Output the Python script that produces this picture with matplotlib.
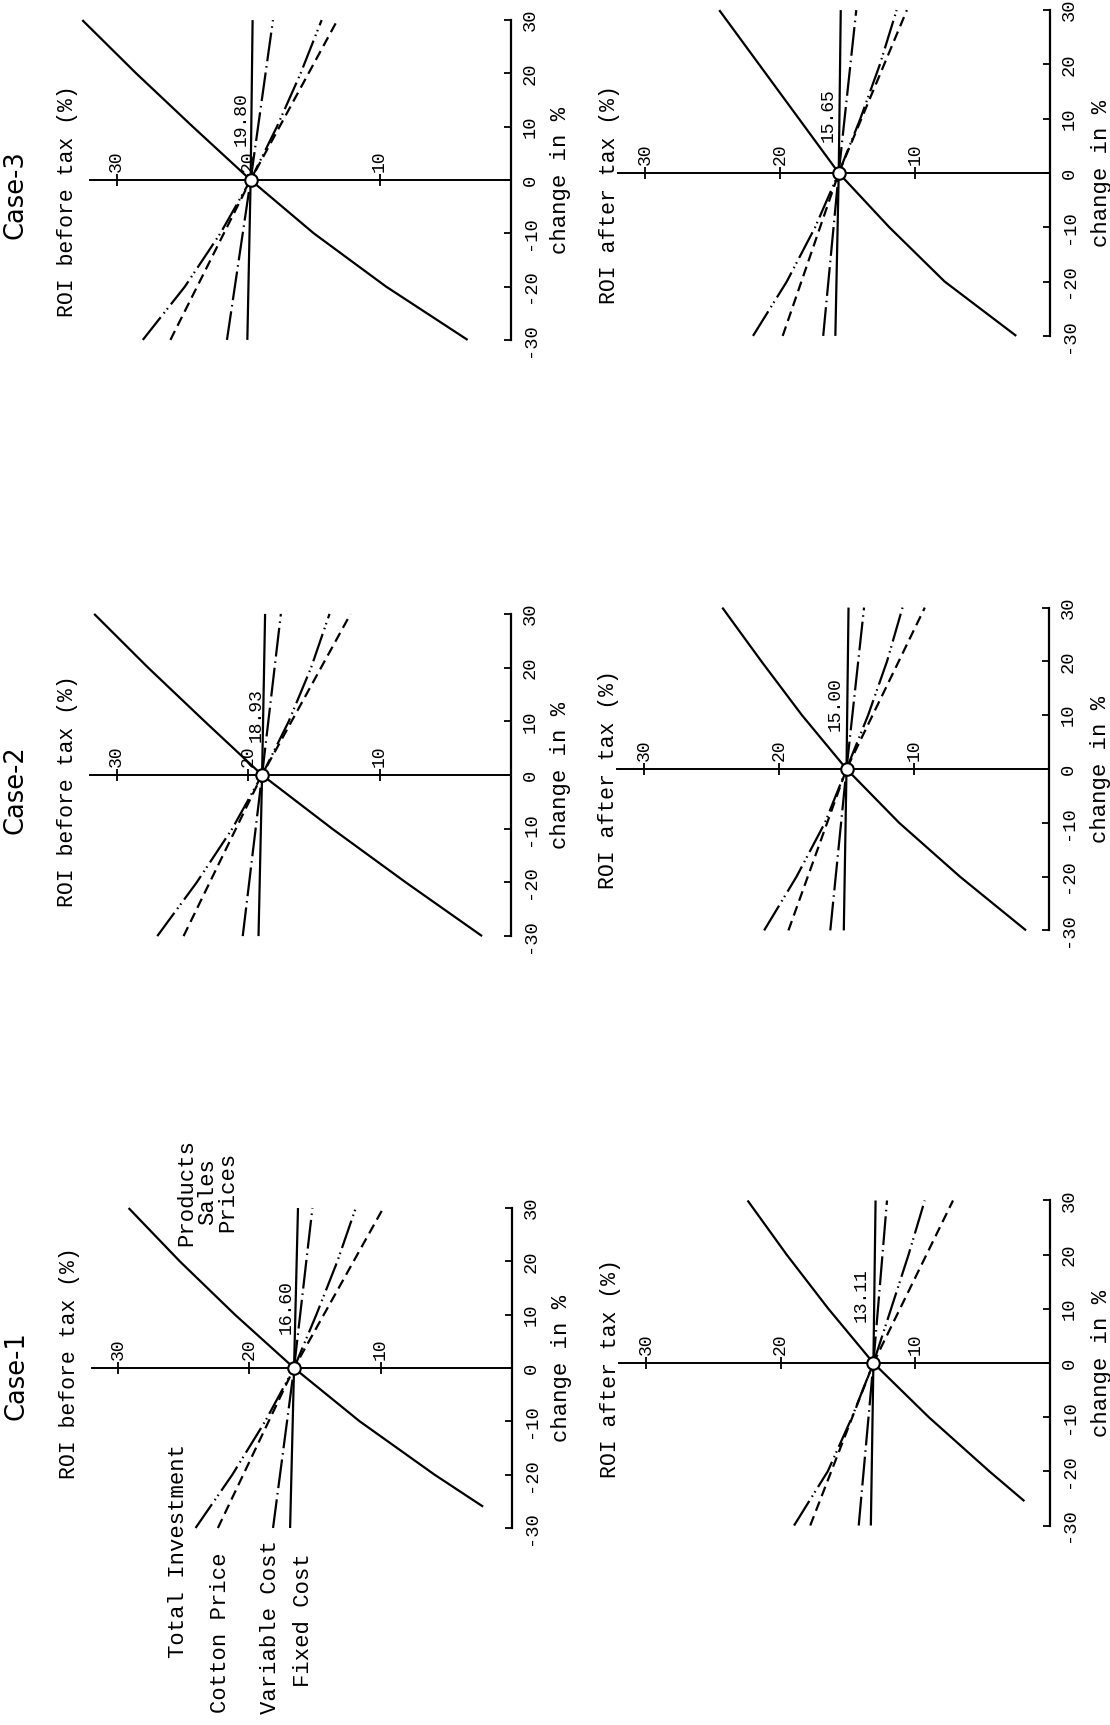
import matplotlib
matplotlib.use("Agg")
import matplotlib.pyplot as plt

W, H = 1110, 1725
fig = plt.figure(figsize=(W / 100, H / 100), dpi=100)
fig.patch.set_facecolor("white")

MONO = ["Liberation Mono", "DejaVu Sans Mono"]
SANS = ["DejaVu Sans"]

# ---------------- data ----------------
CASES = ["Case-1", "Case-2", "Case-3"]
ROI_LABELS = ["ROI before tax (%)", "ROI after tax (%)"]
CHANGE_LABEL = "change in %"
ROI_TICKS = [10, 20, 30]
ROI_TICK_LABELS = ["10", "20", "30"]
CHANGE_TICKS = [-30, -20, -10, 0, 10, 20, 30]
CHANGE_TICK_LABELS = ["-30", "-20", "-10", "0", "10", "20", "30"]

BASE_BEFORE = [16.60, 18.93, 19.80]
BASE_AFTER = [13.11, 15.00, 15.65]
BASE_LABELS_BEFORE = ["16.60", "18.93", "19.80"]
BASE_LABELS_AFTER = ["13.11", "15.00", "15.65"]

CHG3 = [-30, 0, 30]
CHG7 = [-30, -20, -10, 0, 10, 20, 30]
CHG_SALES_C1_BEFORE = [-26, -20, -10, 0, 10, 20, 30]
CHG_SALES_C1_AFTER = [-25.5, -20, -10, 0, 10, 20, 30]

# Case-1, before tax
C1B_SALES = [2.2, 5.9, 11.6, 16.6, 21.1, 25.3, 29.2]
C1B_INVEST = [24.1, 21.3, 18.8, 16.6, 14.9, 13.3, 11.9]
C1B_COTTON = [22.4, 16.6, 9.8]
C1B_VARIABLE = [18.2, 16.6, 15.2]
C1B_FIXED = [16.9, 16.6, 16.3]
# Case-1, after tax
C1A_SALES = [1.9, 4.5, 9.0, 13.11, 16.45, 19.55, 22.45]
C1A_INVEST = [19.0, 16.5, 14.7, 13.11, 11.8, 10.5, 9.3]
C1A_COTTON = [17.8, 13.11, 7.2]
C1A_VARIABLE = [14.2, 13.11, 12.1]
C1A_FIXED = [13.3, 13.11, 12.95]
# Case-2, before tax
C2B_SALES = [2.2, 8.0, 13.6, 18.93, 23.3, 27.6, 31.7]
C2B_INVEST = [26.9, 23.9, 21.2, 18.93, 16.9, 15.2, 13.8]
C2B_COTTON = [24.9, 18.93, 12.2]
C2B_VARIABLE = [20.4, 18.93, 17.5]
C2B_FIXED = [19.2, 18.93, 18.7]
# Case-2, after tax
C2A_SALES = [1.7, 6.6, 11.1, 15.0, 18.3, 21.3, 24.2]
C2A_INVEST = [21.1, 18.7, 16.6, 15.0, 13.4, 12.0, 10.85]
C2A_COTTON = [19.3, 15.0, 9.2]
C2A_VARIABLE = [16.2, 15.0, 13.7]
C2A_FIXED = [15.2, 15.0, 14.85]
# Case-3, before tax
C3B_SALES = [3.3, 9.5, 15.0, 19.8, 24.2, 28.5, 32.6]
C3B_INVEST = [28.0, 24.8, 22.1, 19.8, 17.8, 16.0, 14.4]
C3B_COTTON = [25.9, 19.8, 13.2]
C3B_VARIABLE = [21.6, 19.8, 18.1]
C3B_FIXED = [20.05, 19.8, 19.65]
# Case-3, after tax
C3A_SALES = [2.5, 7.8, 11.9, 15.65, 18.6, 21.55, 24.5]
C3A_INVEST = [22.0, 19.5, 17.4, 15.65, 14.05, 12.6, 11.36]
C3A_COTTON = [19.8, 15.65, 10.6]
C3A_VARIABLE = [16.8, 15.65, 14.35]
C3A_FIXED = [15.9, 15.65, 15.5]

SERIES_NAMES = ["Products\nSales\nPrices", "Total Investment", "Cotton Price",
                "Variable Cost", "Fixed Cost"]

PANEL_DATA = {
    (0, 0): dict(sales=(CHG_SALES_C1_BEFORE, C1B_SALES), invest=(CHG7, C1B_INVEST),
                 cotton=(CHG3, C1B_COTTON), variable=(CHG3, C1B_VARIABLE), fixed=(CHG3, C1B_FIXED)),
    (0, 1): dict(sales=(CHG_SALES_C1_AFTER, C1A_SALES), invest=(CHG7, C1A_INVEST),
                 cotton=(CHG3, C1A_COTTON), variable=(CHG3, C1A_VARIABLE), fixed=(CHG3, C1A_FIXED)),
    (1, 0): dict(sales=(CHG7, C2B_SALES), invest=(CHG7, C2B_INVEST),
                 cotton=(CHG3, C2B_COTTON), variable=(CHG3, C2B_VARIABLE), fixed=(CHG3, C2B_FIXED)),
    (1, 1): dict(sales=(CHG7, C2A_SALES), invest=(CHG7, C2A_INVEST),
                 cotton=(CHG3, C2A_COTTON), variable=(CHG3, C2A_VARIABLE), fixed=(CHG3, C2A_FIXED)),
    (2, 0): dict(sales=(CHG7, C3B_SALES), invest=(CHG7, C3B_INVEST),
                 cotton=(CHG3, C3B_COTTON), variable=(CHG3, C3B_VARIABLE), fixed=(CHG3, C3B_FIXED)),
    (2, 1): dict(sales=(CHG7, C3A_SALES), invest=(CHG7, C3A_INVEST),
                 cotton=(CHG3, C3A_COTTON), variable=(CHG3, C3A_VARIABLE), fixed=(CHG3, C3A_FIXED)),
}

# ---------------- layout / style ----------------
# pixel position of ROI=0, px per ROI unit, pixel position of change=0, px per % change
GEOM = {
    (0, 0): (512, 13.13, 1368, 5.333),
    (0, 1): (1050, 13.47, 1363, 5.417),
    (1, 0): (511, 13.15, 775, 5.37),
    (1, 1): (1049, 13.5, 769, 5.38),
    (2, 0): (511, 13.15, 180, 5.33),
    (2, 1): (1050, 13.5, 173, 5.43),
}
VALUE_LABEL_POS = {
    (0, 0): (17.2, 11.4), (0, 1): (14.0, 12.5),
    (1, 0): (19.4, 11.2), (1, 1): (15.8, 12.0),
    (2, 0): (20.5, 11.4), (2, 1): (16.4, 10.7),
}
ROI_LABEL_CHG = {(0, 0): 1.0, (0, 1): -1.0, (1, 0): -3.0, (1, 1): -2.0,
                 (2, 0): -4.0, (2, 1): -4.0}
TITLE_CHG = [-1.5, -2.8, -2.8]
R_HI, R_LO, C_LO, C_HI = 40.0, -8.0, -58.0, 40.0

LW = 1.6
STYLES = dict(
    sales=dict(color="black", lw=LW, ls="-"),
    invest=dict(color="black", lw=LW, ls=(0, (13, 2.2, 0.7, 1.6, 0.7, 2.2))),
    cotton=dict(color="black", lw=LW, ls=(0, (4.5, 2.6))),
    variable=dict(color="black", lw=LW, ls=(0, (13, 2.2, 0.7, 2.2))),
    fixed=dict(color="black", lw=LW, ls="-"),
)

for (ci, pi), (x0, pr, y0, pc) in GEOM.items():
    left = x0 - pr * R_HI
    right = x0 - pr * R_LO
    top = y0 - pc * C_HI
    bottom = y0 - pc * C_LO
    ax = fig.add_axes([left / W, 1 - bottom / H, (right - left) / W, (bottom - top) / H])
    ax.set_xlim(R_HI, R_LO)
    ax.set_ylim(C_LO, C_HI)
    ax.patch.set_visible(False)

    for side in ("left", "bottom"):
        ax.spines[side].set_visible(False)
    ax.spines["top"].set_position(("data", 0))
    ax.spines["top"].set_bounds(0, 32)
    ax.spines["top"].set_linewidth(1.4)
    ax.spines["right"].set_position(("data", 0))
    ax.spines["right"].set_bounds(-30, 30)
    ax.spines["right"].set_linewidth(1.6)

    ax.xaxis.set_ticks_position("top")
    ax.set_xticks(ROI_TICKS)
    ax.set_xticklabels(ROI_TICK_LABELS, rotation=90, fontfamily=MONO, fontsize=13)
    ax.tick_params(axis="x", direction="inout", length=8, width=1.3, pad=2)

    ax.yaxis.set_ticks_position("right")
    ax.set_yticks(CHANGE_TICKS)
    ax.set_yticklabels(CHANGE_TICK_LABELS, rotation=90, fontfamily=MONO,
                       fontsize=13.5, va="center")
    ax.tick_params(axis="y", direction="in", length=5, width=1.3, pad=8)

    d = PANEL_DATA[(ci, pi)]
    for key in ("fixed", "variable", "cotton", "invest", "sales"):
        chg, roi = d[key]
        ax.plot(roi, chg, solid_capstyle="butt", solid_joinstyle="round", **STYLES[key])

    base = (BASE_BEFORE if pi == 0 else BASE_AFTER)[ci]
    blabel = (BASE_LABELS_BEFORE if pi == 0 else BASE_LABELS_AFTER)[ci]
    ax.plot([base], [0], "o", ms=9, mfc="white", mec="black", mew=1.5, zorder=5)
    vx, vy = VALUE_LABEL_POS[(ci, pi)]
    ax.text(vx, vy, blabel, rotation=90, ha="center", va="center",
            fontfamily=MONO, fontsize=13)

    # axis titles
    ax.text(33.7 if pi == 0 else 32.6, ROI_LABEL_CHG[(ci, pi)], ROI_LABELS[pi],
            rotation=90, ha="center", va="center", fontfamily=MONO, fontsize=15.5)
    ax.text(-3.8, 0, CHANGE_LABEL, rotation=90, ha="center", va="center",
            fontfamily=MONO, fontsize=16)

    if pi == 0:
        ax.text(37.7, TITLE_CHG[ci], CASES[ci], rotation=90, ha="center", va="center",
                fontfamily=SANS, fontsize=18.5)

    if (ci, pi) == (0, 0):
        ax.text(23.2, 33.0, SERIES_NAMES[0], rotation=90, ha="center", va="center",
                multialignment="center", linespacing=0.95,
                fontfamily=MONO, fontsize=16)
        ax.text(25.4, -34.3, SERIES_NAMES[1], rotation=90, ha="center", va="center",
                fontfamily=MONO, fontsize=16)
        ax.text(22.2, -49.7, SERIES_NAMES[2], rotation=90, ha="center", va="center",
                fontfamily=MONO, fontsize=16)
        ax.text(18.4, -48.6, SERIES_NAMES[3], rotation=90, ha="center", va="center",
                fontfamily=MONO, fontsize=16)
        ax.text(15.9, -47.3, SERIES_NAMES[4], rotation=90, ha="center", va="center",
                fontfamily=MONO, fontsize=16)

fig.savefig("out.png", dpi=100, facecolor="white")
